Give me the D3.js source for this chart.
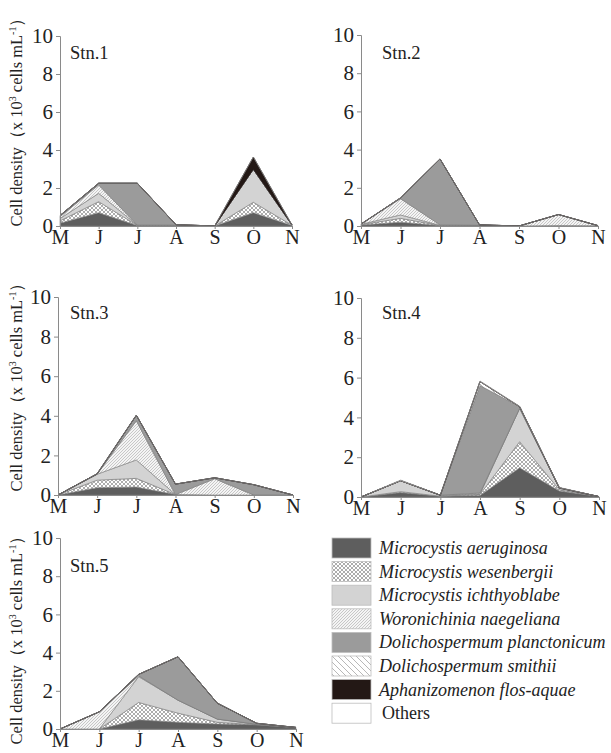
<!DOCTYPE html>
<html>
<head>
<meta charset="utf-8">
<script src="https://cdn.jsdelivr.net/npm/d3@7"></script>
<style>
  body { margin: 0; background: #fff; }
  svg { display: block; }
</style>
</head>
<body>
<script>
// ---------------- DATA ----------------
const months = ["May", "Jun", "Jul", "Aug", "Sep", "Oct", "Nov"];
const monthLabels = ["M", "J", "J", "A", "S", "O", "N"];
const yTicks = [0, 2, 4, 6, 8, 10];

const species = [
  "Microcystis aeruginosa",
  "Microcystis wesenbergii",
  "Microcystis ichthyoblabe",
  "Woronichinia naegeliana",
  "Dolichospermum planctonicum",
  "Dolichospermum smithii",
  "Aphanizomenon flos-aquae",
  "Others"
];

// values (x 10^3 cells/mL), rows follow `species`, columns follow `months`
const stn1 = [
  [0.15, 0.70, 0.02, 0.02, 0.00, 0.70, 0.03],
  [0.12, 0.58, 0.01, 0.01, 0.00, 0.55, 0.01],
  [0.12, 0.44, 0.01, 0.01, 0.00, 1.73, 0.01],
  [0.10, 0.44, 0.01, 0.01, 0.00, 0.00, 0.00],
  [0.06, 0.09, 2.20, 0.02, 0.00, 0.00, 0.00],
  [0.00, 0.00, 0.00, 0.00, 0.00, 0.00, 0.00],
  [0.00, 0.00, 0.00, 0.00, 0.00, 0.65, 0.00],
  [0.00, 0.00, 0.00, 0.00, 0.00, 0.00, 0.00]
];
const stn2 = [
  [0.05, 0.20, 0.02, 0.03, 0.00, 0.01, 0.01],
  [0.02, 0.20, 0.01, 0.01, 0.00, 0.00, 0.00],
  [0.02, 0.18, 0.01, 0.00, 0.00, 0.01, 0.00],
  [0.01, 0.85, 0.02, 0.00, 0.00, 0.58, 0.01],
  [0.00, 0.04, 3.45, 0.02, 0.00, 0.00, 0.00],
  [0.00, 0.00, 0.00, 0.00, 0.00, 0.00, 0.00],
  [0.00, 0.00, 0.00, 0.00, 0.00, 0.00, 0.00],
  [0.00, 0.01, 0.00, 0.00, 0.00, 0.00, 0.00]
];
const stn3 = [
  [0.00, 0.37, 0.40, 0.02, 0.00, 0.00, 0.00],
  [0.00, 0.38, 0.44, 0.00, 0.00, 0.00, 0.00],
  [0.00, 0.30, 0.93, 0.00, 0.00, 0.00, 0.00],
  [0.00, 0.00, 1.98, 0.00, 0.82, 0.00, 0.00],
  [0.00, 0.02, 0.28, 0.53, 0.05, 0.52, 0.00],
  [0.00, 0.00, 0.00, 0.00, 0.00, 0.00, 0.00],
  [0.00, 0.00, 0.00, 0.00, 0.00, 0.00, 0.00],
  [0.00, 0.00, 0.00, 0.00, 0.00, 0.00, 0.00]
];
const stn4 = [
  [0.00, 0.22, 0.04, 0.08, 1.47, 0.30, 0.02],
  [0.00, 0.05, 0.00, 0.05, 1.31, 0.06, 0.00],
  [0.00, 0.55, 0.04, 0.02, 1.68, 0.08, 0.00],
  [0.00, 0.00, 0.01, 0.05, 0.00, 0.00, 0.00],
  [0.00, 0.00, 0.00, 5.40, 0.08, 0.02, 0.00],
  [0.00, 0.00, 0.00, 0.20, 0.00, 0.00, 0.00],
  [0.00, 0.00, 0.00, 0.00, 0.00, 0.00, 0.00],
  [0.00, 0.03, 0.00, 0.03, 0.02, 0.02, 0.00]
];
const stn5 = [
  [0.00, 0.00, 0.48, 0.35, 0.26, 0.22, 0.08],
  [0.00, 0.00, 0.91, 0.48, 0.09, 0.00, 0.00],
  [0.00, 0.00, 1.35, 0.68, 0.17, 0.03, 0.00],
  [0.00, 0.90, 0.04, 0.00, 0.00, 0.00, 0.00],
  [0.00, 0.00, 0.08, 2.27, 0.83, 0.05, 0.00],
  [0.00, 0.00, 0.00, 0.00, 0.00, 0.00, 0.00],
  [0.00, 0.00, 0.00, 0.00, 0.00, 0.00, 0.00],
  [0.00, 0.00, 0.00, 0.00, 0.00, 0.00, 0.00]
];
const stationNames = ["Stn.1", "Stn.2", "Stn.3", "Stn.4", "Stn.5"];
const stationData = [stn1, stn2, stn3, stn4, stn5];

// ---------------- LAYOUT / STYLE ----------------
const W = 611, H = 753;
const serif = "'Liberation Serif', 'Times New Roman', 'DejaVu Serif', serif";
const panels = [
  { left: 60,  right: 292, top: 36,  bottom: 226, lx: 70,  ly: 59,  title: 118 },
  { left: 361, right: 598, top: 35,  bottom: 226, lx: 382, ly: 59,  title: null },
  { left: 58,  right: 293, top: 297, bottom: 495, lx: 70,  ly: 319, title: 383 },
  { left: 361, right: 599, top: 298, bottom: 497, lx: 382, ly: 319, title: null },
  { left: 60,  right: 296, top: 538, bottom: 729, lx: 70,  ly: 572, title: 636 }
];
const fills = ["#5e5e5e", "url(#pCross)", "#d3d3d3", "url(#pWor)", "#9b9b9b", "url(#pSmi)", "#231815", "#ffffff"];

const svg = d3.select("body").append("svg").attr("width", W).attr("height", H)
  .style("font-family", serif);

// patterns
const defs = svg.append("defs");
const pc = defs.append("pattern").attr("id", "pCross").attr("patternUnits", "userSpaceOnUse")
  .attr("width", 4).attr("height", 4);
pc.append("rect").attr("width", 4).attr("height", 4).attr("fill", "#fff");
pc.append("path").attr("d", "M0,0L4,4M4,0L0,4").attr("stroke", "#8a8a8a").attr("stroke-width", 0.7);
const pw = defs.append("pattern").attr("id", "pWor").attr("patternUnits", "userSpaceOnUse")
  .attr("width", 3).attr("height", 3);
pw.append("rect").attr("width", 3).attr("height", 3).attr("fill", "#f4f4f4");
pw.append("path").attr("d", "M-1,1L1,-1M0,3L3,0M2,4L4,2").attr("stroke", "#a8a8a8").attr("stroke-width", 0.6);
const ps = defs.append("pattern").attr("id", "pSmi").attr("patternUnits", "userSpaceOnUse")
  .attr("width", 6).attr("height", 6);
ps.append("rect").attr("width", 6).attr("height", 6).attr("fill", "#fff");
ps.append("path").attr("d", "M-1,5L1,7M0,0L6,6M5,-1L7,1").attr("stroke", "#9a9a9a").attr("stroke-width", 0.7);

const keys = d3.range(species.length);

panels.forEach((p, si) => {
  const data = stationData[si];
  const rows = months.map((m, mi) => {
    const o = { month: m };
    keys.forEach(k => o[k] = data[k][mi]);
    return o;
  });
  const x = d3.scalePoint().domain(months).range([p.left, p.right]);
  const y = d3.scaleLinear().domain([0, 10]).range([p.bottom, p.top]);
  const stack = d3.stack().keys(keys).order(d3.stackOrderNone).offset(d3.stackOffsetNone);
  const series = stack(rows);
  const area = d3.area().x(d => x(d.data.month)).y0(d => y(d[0])).y1(d => y(d[1]));

  const g = svg.append("g");
  g.selectAll("path.layer").data(series).enter().append("path")
    .attr("class", "layer")
    .attr("d", area)
    .attr("fill", (d, i) => fills[i])
    .attr("stroke", (d, i) => i === 6 ? "#231815" : "#7a7a7a")
    .attr("stroke-width", 0.6)
    .attr("stroke-linejoin", "round");

  // y axis
  const ya = g.append("g").attr("transform", `translate(${p.left},0)`)
    .call(d3.axisLeft(y).tickValues(yTicks).tickSize(4).tickPadding(3).tickFormat(d3.format("d")));
  ya.select(".domain").attr("stroke", "#8a8a8a");
  ya.selectAll(".tick line").attr("stroke", "#8a8a8a");
  ya.selectAll("text").attr("font-size", 21).attr("font-family", serif).attr("fill", "#222");

  // x axis
  const xa = g.append("g").attr("transform", `translate(0,${p.bottom})`)
    .call(d3.axisBottom(x).tickSize(3).tickPadding(1).tickFormat((d, i) => monthLabels[i]));
  xa.select(".domain").attr("stroke", "#8a8a8a");
  xa.selectAll(".tick line").attr("stroke", "#8a8a8a");
  xa.selectAll("text").attr("font-size", 20).attr("font-family", serif).attr("fill", "#222");

  // station label
  g.append("text").attr("x", p.lx).attr("y", p.ly).attr("font-size", 18.5).attr("fill", "#222")
    .text(stationNames[si]);

  // y title
  if (p.title !== null) {
    const t = g.append("text").attr("transform", `translate(22,${p.title}) rotate(-90)`)
      .attr("text-anchor", "middle").attr("font-size", 16.5).attr("fill", "#222");
    t.append("tspan").text("Cell density（x 10");
    t.append("tspan").attr("font-size", 10).attr("dy", -6).text("3");
    t.append("tspan").attr("dy", 6).text(" cells mL");
    t.append("tspan").attr("font-size", 10).attr("dy", -6).text("-1");
    t.append("tspan").attr("dy", 6).text("）");
  }
});

// legend
const lg = svg.append("g");
species.forEach((s, i) => {
  const cy = 548 + i * 23.6;
  lg.append("rect").attr("x", 332).attr("y", cy - 10).attr("width", 39).attr("height", 20)
    .attr("fill", fills[i]).attr("stroke", "#bdbdbd").attr("stroke-width", 0.8);
  lg.append("text").attr("x", i === 7 ? 382 : 379).attr("y", cy + 6)
    .attr("font-size", 18).attr("font-style", i === 7 ? "normal" : "italic").attr("fill", "#222")
    .text(s);
});
</script>
</body>
</html>
